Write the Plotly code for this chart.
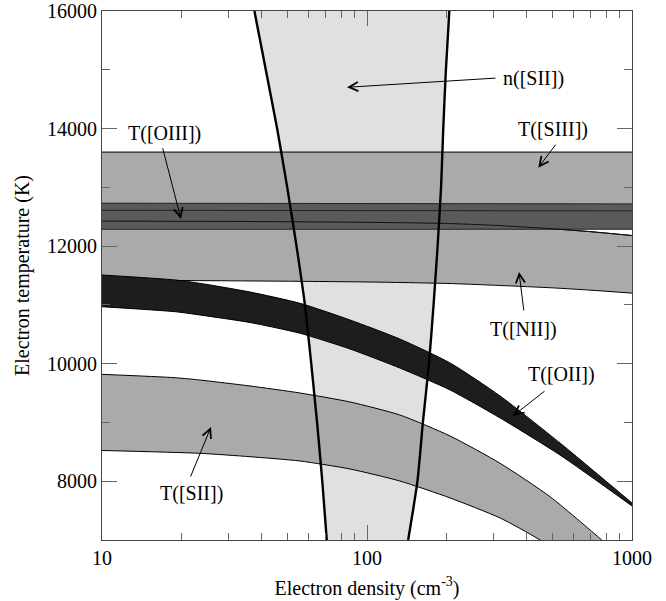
import plotly.graph_objects as go

# ---- n([SII]) density diagnostic: density limits along the temperature grid ----
ne_T = [7000, 8000, 9000, 10000, 11000, 12000, 13000, 14000, 15000, 16000]
ne_low = [70.5, 67.8, 64.8, 61.6, 58.3, 54.2, 50.0, 45.8, 41.5, 37.6]
ne_high = [143, 155, 162.5, 171.3, 178.3, 184.7, 190.3, 194, 198.5, 204.5]

# ---- T([SIII]) ----
siii_ne = [10, 1000]
siii_hi = [13600, 13600]
siii_lo = [12610, 12599]

# ---- T([OIII]) ----
oiii_ne = [10, 1000]
oiii_hi = [12730, 12718]
oiii_lo = [12287, 12287]

# ---- T([NII]) ----
nii_ne = [10, 30, 100, 200, 300, 500, 700, 1000]
nii_hi = [12425, 12420, 12405, 12385, 12355, 12295, 12245, 12180]
nii_lo = [11420, 11410, 11390, 11365, 11335, 11290, 11250, 11200]

# ---- T([OII]) ----
oii_ne = [10, 18.9, 23.4, 36.2, 55.9, 86.3, 133, 206, 318, 535, 1000]
oii_hi = [11509, 11424, 11367, 11219, 11027, 10743, 10420, 10011, 9450, 8650, 7630]
oii_lo = [10969, 10884, 10828, 10700, 10517, 10250, 9926, 9552, 9076, 8446, 7579]

# ---- T([SII]) ----
sii_ne_hi = [10, 18.9, 23.4, 36.2, 55.9, 86.3, 133, 206, 318, 490.6, 768.7, 1000]
sii_hi = [9819, 9761, 9722, 9620, 9501, 9348, 9127, 8769, 8305, 7737, 7000, 6541]
sii_ne_lo = [10, 23.4, 36.2, 55.9, 86.3, 133, 206, 318, 449.6, 1000]
sii_lo = [8523, 8475, 8417, 8344, 8208, 8004, 7715, 7374, 7000, 5911]

# axis ticks
x_major = [10, 100, 1000]
x_minor = [20, 30, 40, 50, 60, 70, 80, 90, 200, 300, 400, 500, 600, 700, 800, 900]
y_major = [8000, 10000, 12000, 14000, 16000]
y_minor = [9000, 11000, 13000, 15000]

SERIF = "Liberation Serif"
MID_GREY = "#aaaaaa"
DARK_GREY = "#5a5a5a"
NEAR_BLACK = "#1d1d1d"
LIGHT_GREY = "#e0e0e0"

fig = go.Figure()

# density region (filled between the two limits)
fig.add_trace(go.Scatter(
    x=ne_low + ne_high[::-1], y=ne_T + ne_T[::-1],
    mode="lines", fill="toself", fillcolor=LIGHT_GREY,
    line=dict(width=0), hoverinfo="skip"))


def band(ne_lo, lo, ne_hi, hi, color, edge="black", ewidth=1):
    fig.add_trace(go.Scatter(
        x=ne_lo, y=lo, mode="lines",
        line=dict(color=edge, width=ewidth, shape="spline", smoothing=0.6),
        hoverinfo="skip"))
    fig.add_trace(go.Scatter(
        x=ne_hi, y=hi, mode="lines", fill="tonexty", fillcolor=color,
        line=dict(color=edge, width=ewidth, shape="spline", smoothing=0.6),
        hoverinfo="skip"))


band(siii_ne, siii_lo, siii_ne, siii_hi, MID_GREY)
band(nii_ne, nii_lo, nii_ne, nii_hi, MID_GREY)
band(oiii_ne, oiii_lo, oiii_ne, oiii_hi, DARK_GREY, edge="#222222")

# edges that remain visible across the dark [OIII] band
fig.add_trace(go.Scatter(x=siii_ne, y=siii_lo, mode="lines",
                         line=dict(color="#222222", width=1), hoverinfo="skip"))
fig.add_trace(go.Scatter(x=nii_ne, y=nii_hi, mode="lines",
                         line=dict(color="#111111", width=1,
                                   shape="spline", smoothing=0.6),
                         hoverinfo="skip"))

band(oii_ne, oii_lo, oii_ne, oii_hi, NEAR_BLACK)
band(sii_ne_lo, sii_lo, sii_ne_hi, sii_hi, MID_GREY)

# density limits drawn on top
for ne_edge in (ne_low, ne_high):
    fig.add_trace(go.Scatter(
        x=ne_edge, y=ne_T, mode="lines",
        line=dict(color="black", width=2.4, shape="spline", smoothing=0.6),
        hoverinfo="skip"))

# labels and arrows: (text, label x, label y, tail x, tail y, tip x, tip y); x in log10(ne)
labels = [
    ("n([SII])", 2.630, 14860, 2.4906, 14860, 1.9245, 14702),
    ("T([SIII])", 2.7019, 13992, 2.7158, 13749, 2.6464, 13334),
    ("T([OIII])", 1.2377, 13924, 1.2275, 13691, 1.2981, 12461),
    ("T([NII])", 2.5887, 10573, 2.5925, 10879, 2.5736, 11560),
    ("T([OII])", 2.7358, 9824, 2.6755, 9552, 2.5509, 9110),
    ("T([SII])", 1.3396, 7783, 1.3321, 8055, 1.4113, 8923),
]
for text, lx, ly, tx, ty, hx, hy in labels:
    fig.add_annotation(x=lx, y=ly, text=text, showarrow=False,
                       xanchor="center", yanchor="middle",
                       font=dict(family=SERIF, size=20, color="black"))
    fig.add_annotation(x=hx, y=hy, ax=tx, ay=ty, axref="x", ayref="y",
                       text="", showarrow=True, arrowhead=5, arrowsize=1.8,
                       arrowwidth=1, arrowcolor="black", standoff=0)

axis_common = dict(
    showline=True, linecolor="#444444", linewidth=1, mirror="ticks",
    ticks="inside", ticklen=15, tickwidth=1, tickcolor="#666666",
    showgrid=False, zeroline=False, automargin=False,
    tickfont=dict(family=SERIF, size=20, color="black"),
)

fig.update_xaxes(
    type="log", range=[1, 3], tickmode="array", tickvals=x_major,
    ticktext=[str(v) for v in x_major],
    minor=dict(tickmode="array", tickvals=x_minor, ticks="inside",
               ticklen=7, tickcolor="#666666", showgrid=False),
    title=dict(text="Electron density (cm<sup>-3</sup>)",
               font=dict(family=SERIF, size=20, color="black"), standoff=12),
    **axis_common)
fig.update_yaxes(
    range=[7000, 16000], tickmode="array", tickvals=y_major,
    ticktext=[str(v) for v in y_major],
    minor=dict(tickmode="array", tickvals=y_minor, ticks="inside",
               ticklen=8, tickcolor="#666666", showgrid=False),
    title=dict(text="Electron temperature (K)",
               font=dict(family=SERIF, size=20, color="black"), standoff=12),
    **axis_common)

fig.update_layout(
    width=666, height=601,
    margin=dict(l=102, r=34, t=11, b=61),
    paper_bgcolor="white", plot_bgcolor="white",
    showlegend=False,
    font=dict(family=SERIF, size=20, color="black"),
)

fig.write_html("out.html")
